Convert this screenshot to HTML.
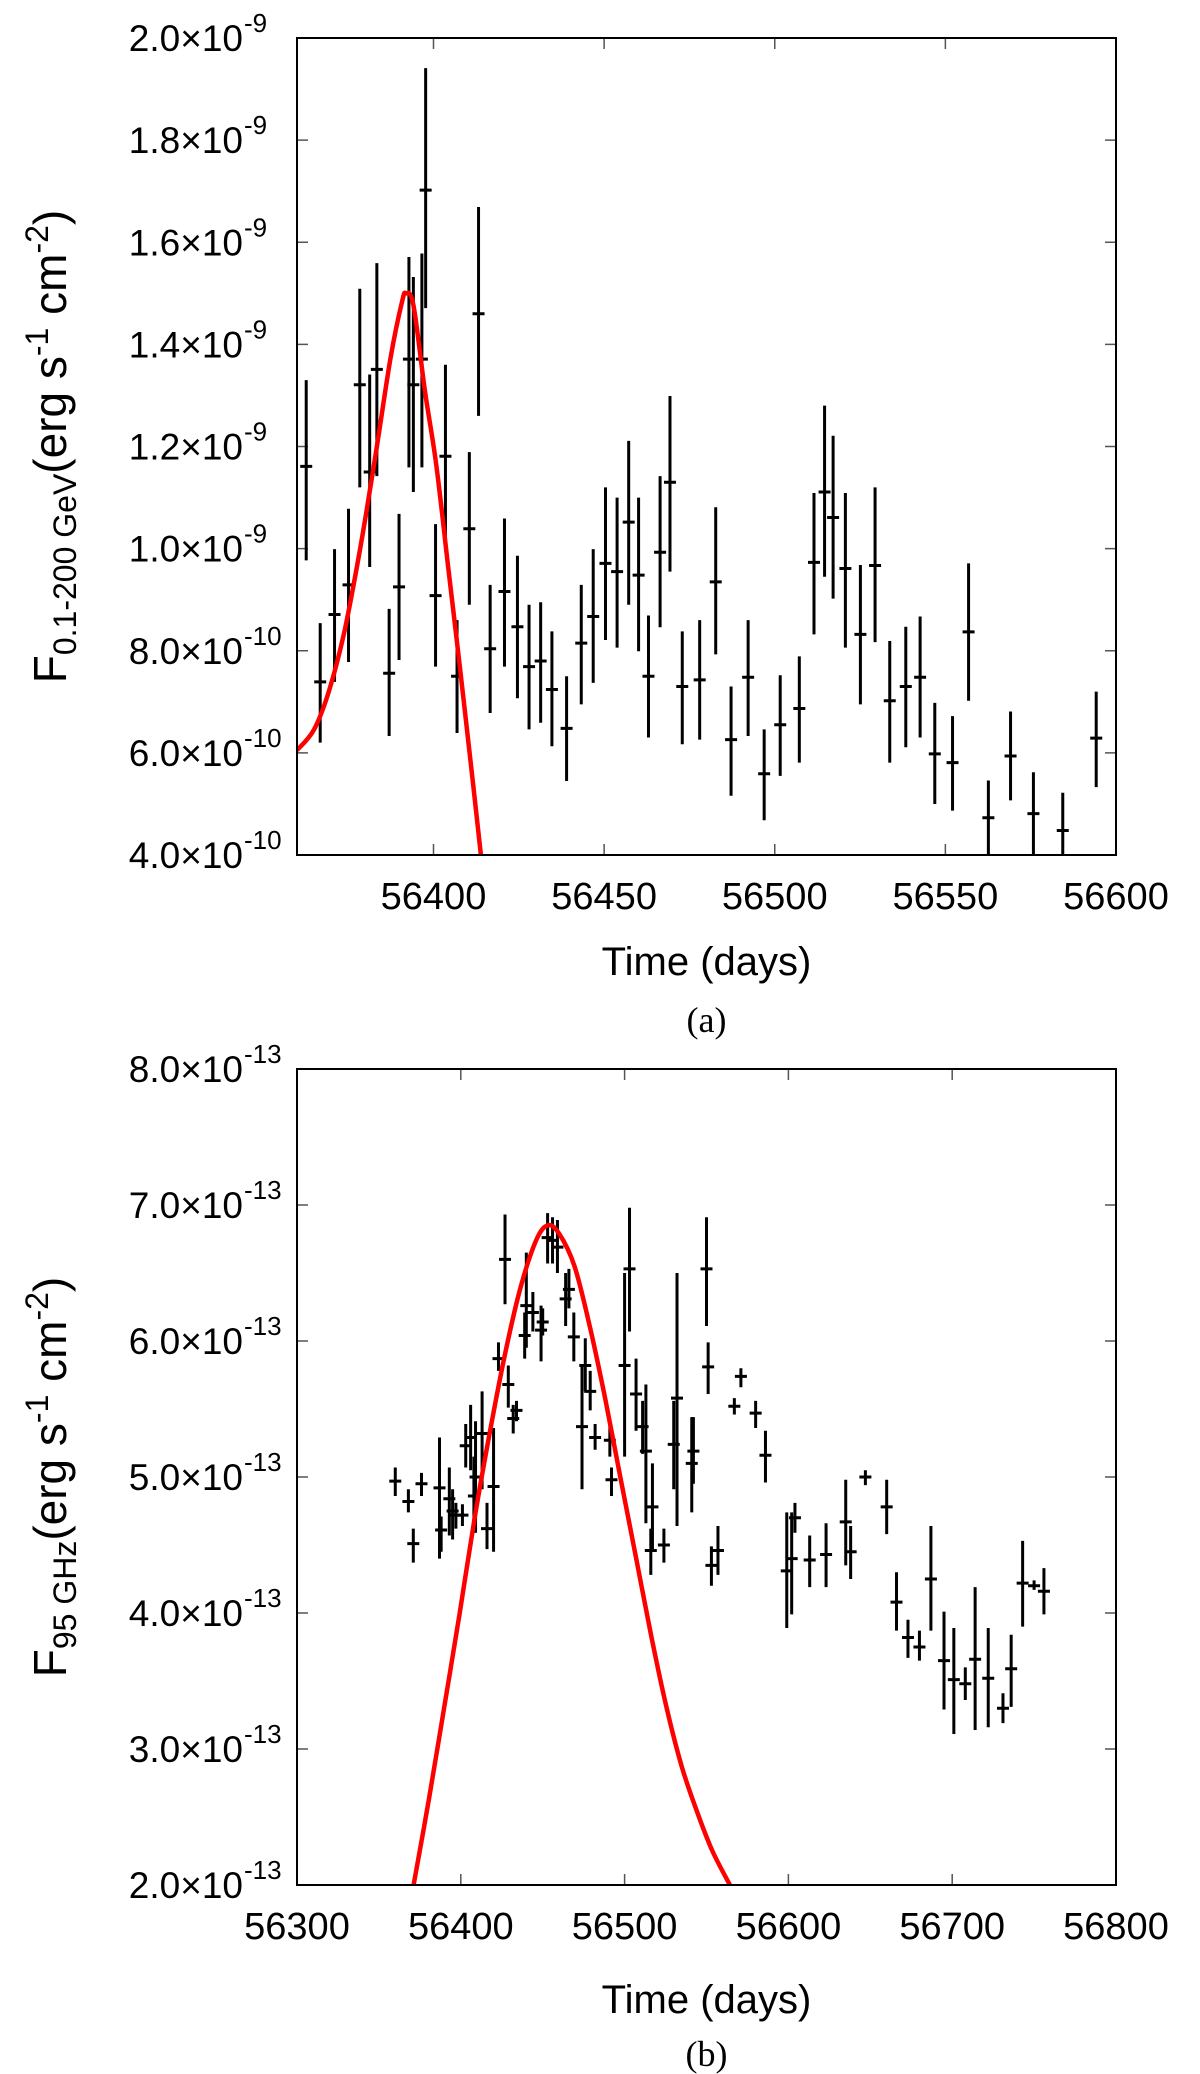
<!DOCTYPE html>
<html><head><meta charset="utf-8"><style>
html,body{margin:0;padding:0;background:#fff;}
svg{display:block;font-family:"Liberation Sans",Arial,sans-serif;}
</style></head><body>
<svg id="fig" width="1200" height="2074" viewBox="0 0 1200 2074" xmlns="http://www.w3.org/2000/svg">
<defs>
<clipPath id="clipA"><rect x="297" y="38" width="819" height="817"/></clipPath>
<clipPath id="clipB"><rect x="297" y="1069" width="819" height="816"/></clipPath>
</defs>
<g id="panelA"></g>
<g id="panelB"></g>
</svg>
<script>
// Panel (a) data: day, flux (1e-10), lower, upper
const aDays=[56362.7,56366.8,56371.0,56375.1,56378.4,56381.3,56383.4,56387.0,56389.9,56392.8,56394.1,56396.6,56397.7,56400.6,56403.5,56406.9,56410.5,56413.2,56416.6,56420.8,56424.6,56428.0,56431.4,56434.7,56439.0,56443.3,56446.8,56450.4,56453.8,56457.2,56460.1,56463.0,56466.4,56469.3,56472.9,56478.0,56482.7,56487.2,56492.2,56496.9,56501.6,56507.2,56511.5,56514.6,56517.1,56520.7,56525.1,56529.4,56533.7,56538.4,56542.6,56546.9,56552.1,56556.8,56562.6,56569.1,56575.8,56584.4,56594.2];
const aVals=[11.61,7.39,8.71,9.29,13.21,11.50,13.51,7.56,9.25,13.71,13.21,13.71,17.02,9.08,11.81,7.50,10.39,14.60,8.04,9.16,8.47,7.69,7.80,7.24,6.48,8.15,8.67,9.71,9.55,10.52,9.48,7.50,9.93,11.30,7.30,7.43,9.35,6.26,7.48,5.59,6.55,6.87,9.73,11.11,10.61,9.61,8.32,9.67,7.02,7.30,7.48,5.98,5.81,8.37,4.73,5.94,4.81,4.48,6.29];
const aLo=[9.77,6.20,7.39,7.78,11.20,9.64,11.42,6.33,7.82,11.59,11.11,11.59,14.71,7.69,10.00,6.39,8.90,12.60,6.78,7.69,7.07,6.46,6.59,6.13,5.45,6.95,7.37,8.21,8.06,8.90,7.99,6.30,8.46,9.55,6.17,6.26,7.93,5.16,6.33,4.68,5.55,5.81,8.32,9.45,9.02,8.06,6.95,8.17,5.81,6.11,6.30,5.00,4.87,7.02,3.9,5.07,3.9,3.9,5.33];
const aHi=[13.30,8.54,9.99,10.78,15.09,13.41,15.59,8.82,10.68,15.71,15.32,15.78,19.41,10.48,13.60,8.60,11.89,16.69,9.29,10.59,9.86,8.90,8.95,8.38,7.50,9.29,9.99,11.20,11.00,12.11,11.00,8.69,11.42,12.99,8.38,8.60,10.81,7.30,8.60,6.46,7.52,7.89,11.09,12.80,12.21,11.09,9.68,11.20,8.19,8.47,8.67,6.98,6.72,9.71,5.46,6.81,5.62,5.22,7.20];
const aCurveDays=[56360,56365.0,56369.5,56374.0,56378.4,56382.9,56387.4,56390.8,56391.9,56394.1,56397.5,56400.8,56404.2,56407.6,56410.9,56413.9];
const aCurveVals=[6.05,6.46,7.24,8.41,9.96,11.78,13.73,14.84,15.0,14.77,13.08,11.65,9.70,7.76,5.81,4.0];
const aXTicks=[56400,56450,56500,56550,56600];
const aYTicks=[4,6,8,10,12,14,16,18,20];
const aYLabels=["4.0","6.0","8.0","1.0","1.2","1.4","1.6","1.8","2.0"];
const aYExp=["-10","-10","-10","-9","-9","-9","-9","-9","-9"];

// Panel (b) data: day, flux (1e-13), lower, upper
const bDays=[56360,56368,56371,56376,56387,56388,56393,56395,56397,56401,56403,56406,56408,56409,56413,56416,56420,56423,56427,56429,56432,56434,56439,56440,56444,56449,56450,56453,56456,56459,56464,56466,56469,56474,56476,56479,56482,56491,56492,56500,56503,56507,56511,56513,56517,56516,56524,56530,56532,56541,56542,56550,56551,56553,56557,56567,56571,56580,56586,56599,56602,56604,56613,56623,56635,56638,56647,56660,56666,56673,56680,56687,56695,56701,56708,56714,56722,56731,56736,56743,56750,56756];
const bVals=[4.97,4.82,4.51,4.95,4.92,4.61,4.84,4.75,4.72,4.72,5.23,5.29,4.86,5.00,5.32,4.62,4.93,5.87,6.60,5.68,5.43,5.49,6.04,6.26,6.21,6.08,6.14,6.76,6.74,6.69,6.31,6.38,6.03,5.37,5.82,5.63,5.29,5.27,4.98,5.82,6.53,5.61,5.37,5.19,4.78,4.46,4.50,5.24,5.58,5.10,5.19,6.53,5.81,4.35,4.46,5.52,5.74,5.47,5.16,4.31,4.40,4.70,4.39,4.43,4.67,4.45,5.00,4.78,4.08,3.82,3.75,4.25,3.65,3.51,3.48,3.66,3.52,3.30,3.59,4.22,4.20,4.16];
const bLo=[4.86,4.74,4.37,4.86,4.40,4.45,4.57,4.54,4.62,4.64,5.07,5.05,4.59,4.59,4.91,4.47,4.45,5.78,6.27,5.51,5.32,5.41,5.87,5.95,6.07,5.85,6.04,6.57,6.57,6.50,6.11,6.24,5.85,4.91,5.63,5.49,5.20,5.15,4.86,5.15,6.07,5.34,5.17,4.66,4.47,4.28,4.37,4.91,4.64,4.74,4.95,6.11,5.61,4.20,4.28,5.46,5.66,5.36,4.96,3.89,3.99,4.59,4.19,4.19,4.35,4.25,4.94,4.58,3.87,3.67,3.65,3.87,3.29,3.11,3.36,3.14,3.16,3.19,3.31,3.90,4.17,3.99];
const bHi=[5.07,4.91,4.62,5.03,5.29,4.71,5.07,4.91,4.81,4.80,5.39,5.53,5.15,5.41,5.63,4.81,5.36,5.99,6.93,5.82,5.53,5.56,6.21,6.65,6.36,6.26,6.24,6.94,6.91,6.89,6.50,6.53,6.21,5.82,6.02,5.78,5.39,5.39,5.07,6.50,6.98,5.87,5.56,5.68,5.10,4.62,4.62,5.56,6.50,5.44,5.44,6.91,5.99,4.49,4.64,5.58,5.80,5.56,5.34,4.74,4.74,4.81,4.57,4.66,4.98,4.64,5.05,4.98,4.30,3.95,3.87,4.64,4.01,3.89,3.60,4.19,3.89,3.41,3.84,4.53,4.24,4.33];
const bCurveDays=[56371.2,56380.5,56389.9,56399.2,56408.6,56417.9,56427.3,56436.6,56446,56453,56460,56469.4,56478.7,56488.1,56497.4,56506.8,56516.1,56525.5,56534.9,56544.2,56553.6,56564.3];
const bCurveVals=[2.0,2.63,3.31,3.99,4.71,5.34,5.92,6.40,6.74,6.85,6.79,6.55,6.11,5.58,5.00,4.42,3.84,3.31,2.87,2.54,2.25,2.0];
const bXTicks=[56300,56400,56500,56600,56700,56800];
const bYTicks=[2,3,4,5,6,7,8];
const bYLabels=["2.0","3.0","4.0","5.0","6.0","7.0","8.0"];
const bYExp=["-13","-13","-13","-13","-13","-13","-13"];

const NS="http://www.w3.org/2000/svg";
function mk(tag,attrs,parent){const e=document.createElementNS(NS,tag);for(const k in attrs)e.setAttribute(k,attrs[k]);parent.appendChild(e);return e;}
function spline(pts){
  let d='M'+pts[0][0].toFixed(1)+','+pts[0][1].toFixed(1);
  for(let i=0;i<pts.length-1;i++){
    const p0=pts[Math.max(0,i-1)],p1=pts[i],p2=pts[i+1],p3=pts[Math.min(pts.length-1,i+2)];
    const c1x=p1[0]+(p2[0]-p0[0])/6,c1y=p1[1]+(p2[1]-p0[1])/6;
    const c2x=p2[0]-(p3[0]-p1[0])/6,c2y=p2[1]-(p3[1]-p1[1])/6;
    d+=`C${c1x.toFixed(1)},${c1y.toFixed(1)} ${c2x.toFixed(1)},${c2y.toFixed(1)} ${p2[0].toFixed(1)},${p2[1].toFixed(1)}`;
  }
  return d;
}

function drawPanel(g,cfg){
  const L=297,R=1116,T=cfg.top,B=cfg.bottom;
  const sx=d=>L+(d-cfg.xmin)/(cfg.xmax-cfg.xmin)*(R-L);
  const sy=v=>B-(v-cfg.ymin)/(cfg.ymax-cfg.ymin)*(B-T);
  cfg.xt.forEach(t=>{
    const x=sx(t);
    const tk=mk('path',{d:`M${x},${B}v-11M${x},${T}v11`,stroke:'#555','stroke-width':1.5},g);
    
    
    const lb=mk('text',{x:x,y:B+54,'font-size':38,'text-anchor':'middle',fill:'#000'},g);
    lb.textContent=t;
    
    
  });
  cfg.yt.forEach((t,i)=>{
    const y=sy(t);
    const tk=mk('path',{d:`M${L},${y}h11M${R},${y}h-11`,stroke:'#555','stroke-width':1.5},g);
    
    
    const lb=mk('text',{x:243,y:y+13,'font-size':37,'text-anchor':'end',fill:'#000'},g);
    lb.textContent=cfg.yl[i]+'\u00d710';
    
    
    const ex=mk('text',{x:244,y:y-6,'font-size':26,'text-anchor':'start',fill:'#000'},g);
    ex.textContent=cfg.ye[i];
    
    
  });
  const dg=mk('g',{'clip-path':cfg.clip},g);
  
  
  cfg.days.forEach((d,i)=>{
    const x=sx(d),y=sy(cfg.vals[i]);
    const p=mk('path',{d:`M${x},${sy(cfg.lo[i])}V${sy(cfg.hi[i])}M${x-6},${y}H${x+6}`,stroke:'#000','stroke-width':3,fill:'none'},dg);
    
    
  });
  const pts=cfg.cd.map((d,i)=>[sx(d),sy(cfg.cv[i])]);
  const cv=mk('path',{d:spline(pts),stroke:'#f00','stroke-width':4.5,fill:'none','stroke-linejoin':'round'},dg);
  
  
  const fr=mk('rect',{x:L,y:T,width:R-L,height:B-T,fill:'none',stroke:'#000','stroke-width':2},g);
  
  
  const xt=mk('text',{x:(L+R)/2,y:cfg.xtitleY,'font-size':40,'text-anchor':'middle',fill:'#000'},g);
  xt.textContent='Time (days)';
  
  
  const cap=mk('text',{x:(L+R)/2,y:cfg.capY,'font-size':36,'text-anchor':'middle',fill:'#000','font-family':'Liberation Serif, serif'},g);
  cap.textContent=cfg.cap;
  
  
  const cy=(T+B)/2;
  const yt=mk('text',{x:0,y:0,'font-size':46,'text-anchor':'middle',fill:'#000',transform:`translate(66,${cy}) rotate(-90)`},g);
  yt.innerHTML=`F<tspan font-size="32" dy="10">${cfg.sub}</tspan><tspan dy="-10">(erg s</tspan><tspan font-size="32" dy="-18">-1</tspan><tspan dy="18"> cm</tspan><tspan font-size="32" dy="-18">-2</tspan><tspan dy="18">)</tspan>`;
  
  
}
drawPanel(document.getElementById('panelA'),{top:38,bottom:855,xmin:56360,xmax:56600,ymin:4,ymax:20,
  xt:aXTicks,yt:aYTicks,yl:aYLabels,ye:aYExp,days:aDays,vals:aVals,lo:aLo,hi:aHi,cd:aCurveDays,cv:aCurveVals,
  clip:'url(#clipA)',xtitleY:975,capY:1032,cap:'(a)',sub:'0.1-200 GeV'});
drawPanel(document.getElementById('panelB'),{top:1069,bottom:1885,xmin:56300,xmax:56800,ymin:2,ymax:8,
  xt:bXTicks,yt:bYTicks,yl:bYLabels,ye:bYExp,days:bDays,vals:bVals,lo:bLo,hi:bHi,cd:bCurveDays,cv:bCurveVals,
  clip:'url(#clipB)',xtitleY:2013,capY:2066,cap:'(b)',sub:'95 GHz'});
</script>
</body></html>
